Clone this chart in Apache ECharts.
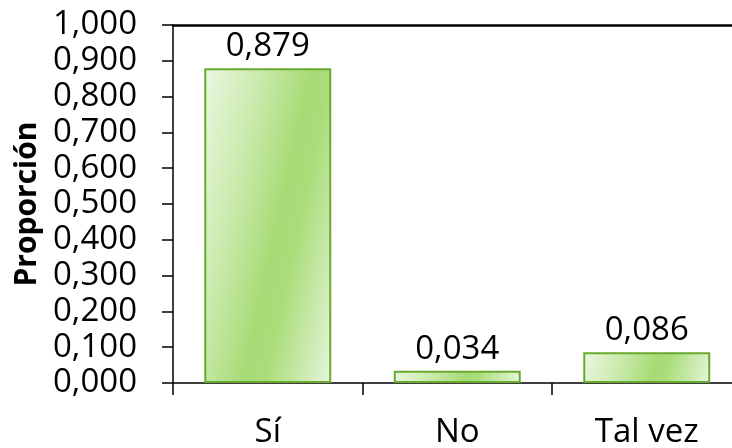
<!DOCTYPE html>
<html>
<head>
<meta charset="utf-8">
<script src="https://cdn.jsdelivr.net/npm/echarts@6/dist/echarts.min.js"></script>
<style>html,body{margin:0;padding:0;background:#fff}#c{width:732px;height:448px}</style>
</head>
<body>
<div id="c"></div>
<script>
const categories = ['Sí', 'No', 'Tal vez'];
const values = [0.879, 0.034, 0.086];
const yTicks = { min: 0, max: 1, interval: 0.1 };
const yName = 'Proporción';

const fmt = v => v.toFixed(3).replace('.', ',');
const font = '"Open Sans", sans-serif';
const stops = [
  { offset: 0, color: '#eaf7e1' },
  { offset: 0.3, color: '#c9eaab' },
  { offset: 0.55, color: '#a7db76' },
  { offset: 0.66, color: '#aadd7a' },
  { offset: 0.86, color: '#cdebb3' },
  { offset: 1, color: '#e7f6dc' }
];
const dir = [0.9766, 0.2153];
function gradFor(w, h) {
  const L = dir[0] * w + dir[1] * h;
  return new echarts.graphic.LinearGradient(0, 0, L * dir[0] / w, L * dir[1] / h, stops);
}
const chart = echarts.init(document.getElementById('c'), null, { renderer: 'canvas' });
const option = {
  animation: false,
  grid: { left: 173, width: 568.5, top: 25, bottom: 65, containLabel: false, outerBoundsMode: 'none' },
  xAxis: [{
    type: 'category', data: categories,
    axisLine: { show: true, lineStyle: { color: '#000', width: 1.5 } },
    axisTick: { show: true, alignWithLabel: false, length: 12, lineStyle: { color: '#000', width: 1.5 } },
    axisLabel: { color: '#000', fontSize: 33, fontFamily: font, margin: 33 }
  }, {
    type: 'category', data: categories, position: 'top',
    axisLine: { show: true, lineStyle: { color: '#000', width: 2.5 } },
    axisTick: { show: false }, axisLabel: { show: false }
  }],
  yAxis: {
    type: 'value', min: yTicks.min, max: yTicks.max, interval: yTicks.interval,
    name: yName, nameLocation: 'middle', nameGap: 128, nameRotate: 90,
    nameTextStyle: { color: '#000', fontSize: 30, fontWeight: 'bold', fontFamily: font },
    axisLine: { show: true, lineStyle: { color: '#000', width: 1.5 } },
    axisTick: { show: true, length: 11, lineStyle: { color: '#000', width: 1.5 } },
    splitLine: { show: false },
    axisLabel: { color: '#000', fontSize: 33, fontFamily: font, margin: 36, formatter: v => fmt(v) }
  },
  series: [{
    type: 'bar', data: values, barWidth: '67%',
    itemStyle: { color: '#a7db76', borderColor: '#6aa92f', borderWidth: 2 },
    label: { show: true, position: 'top', distance: 5, color: '#000', fontSize: 33, fontFamily: font,
      formatter: p => fmt(p.value) }
  }]
};
chart.setOption(option);
const data = chart.getModel().getSeriesByIndex(0).getData();
const styled = values.map((v, i) => {
  const lay = data.getItemLayout(i);
  const w = Math.abs(lay.width), h = Math.max(Math.abs(lay.height), 1);
  return { value: v, itemStyle: { color: gradFor(w, h) } };
});
chart.setOption({ series: [{ data: styled }] });
</script>
</body>
</html>
